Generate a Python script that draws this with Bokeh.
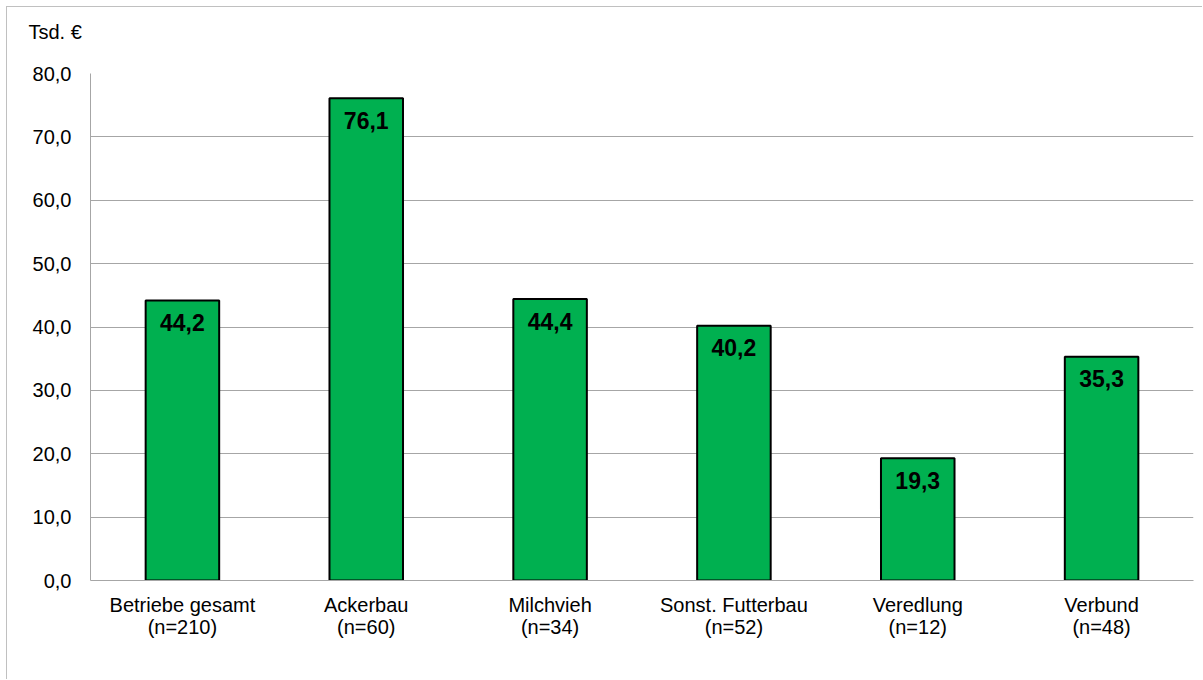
from bokeh.plotting import figure
from bokeh.models import ColumnDataSource, FactorRange, Range1d, CustomJSTickFormatter, SingleIntervalTicker, LabelSet
from bokeh.core.properties import value
from bokeh.embed import file_html
from bokeh.resources import INLINE

categories = ["Betriebe gesamt\n(n=210)", "Ackerbau\n(n=60)", "Milchvieh\n(n=34)",
              "Sonst. Futterbau\n(n=52)", "Veredlung\n(n=12)", "Verbund\n(n=48)"]
values = [44.2, 76.1, 44.4, 40.2, 19.3, 35.3]
labels = ["44,2", "76,1", "44,4", "40,2", "19,3", "35,3"]
unit_label = "Tsd. €"

FONT = "Liberation Sans"
GRID = "#a6a6a6"

source = ColumnDataSource(dict(cat=categories, val=values, lab=labels))

p = figure(x_range=FactorRange(*categories, range_padding=0), y_range=Range1d(0, 80),
           width=1196, height=673, output_backend="svg", toolbar_location=None,
           min_border_left=83, min_border_right=10, min_border_top=66, min_border_bottom=100,
           title=unit_label + "\n\u00a0")
p.styles = {"border-left": "1px solid #c0c0c0", "border-top": "1px solid #c0c0c0",
            "margin-left": "6px", "margin-top": "6px"}
p.outline_line_color = None
p.background_fill_color = "white"
p.border_fill_color = "white"

p.title.align = "left"
p.title.offset = -62
p.title.standoff = 8
p.title.text_line_height = 1.2
p.title.text_font = FONT
p.title.text_font_size = "20px"
p.title.text_font_style = "normal"
p.title.text_color = "black"

p.vbar(x="cat", top="val", width=0.4, source=source, fill_color="#00B050",
       line_color="black", line_width=2)

p.add_layout(LabelSet(x="cat", y="val", text="lab", source=source, text_align="center",
                      text_baseline="middle", y_offset=-22, text_font=value(FONT),
                      text_font_size="23px", text_font_style="bold", text_color="black"))

p.xgrid.grid_line_color = None
p.ygrid.grid_line_color = GRID
p.ygrid.grid_line_width = 1
p.yaxis.ticker = SingleIntervalTicker(interval=10)
p.yaxis.formatter = CustomJSTickFormatter(code="return tick.toFixed(1).replace('.', ',');")

for ax in (p.xaxis[0], p.yaxis[0]):
    ax.axis_line_color = GRID
    ax.axis_line_width = 1
    ax.major_tick_line_color = None
    ax.minor_tick_line_color = None
    ax.major_label_text_font = FONT
    ax.major_label_text_font_size = "20px"
    ax.major_label_text_color = "black"

p.yaxis.major_label_standoff = 13
p.xaxis.major_label_standoff = 7
p.xaxis.major_label_text_line_height = 1.0

open("out.html", "w").write(file_html(p, INLINE))
